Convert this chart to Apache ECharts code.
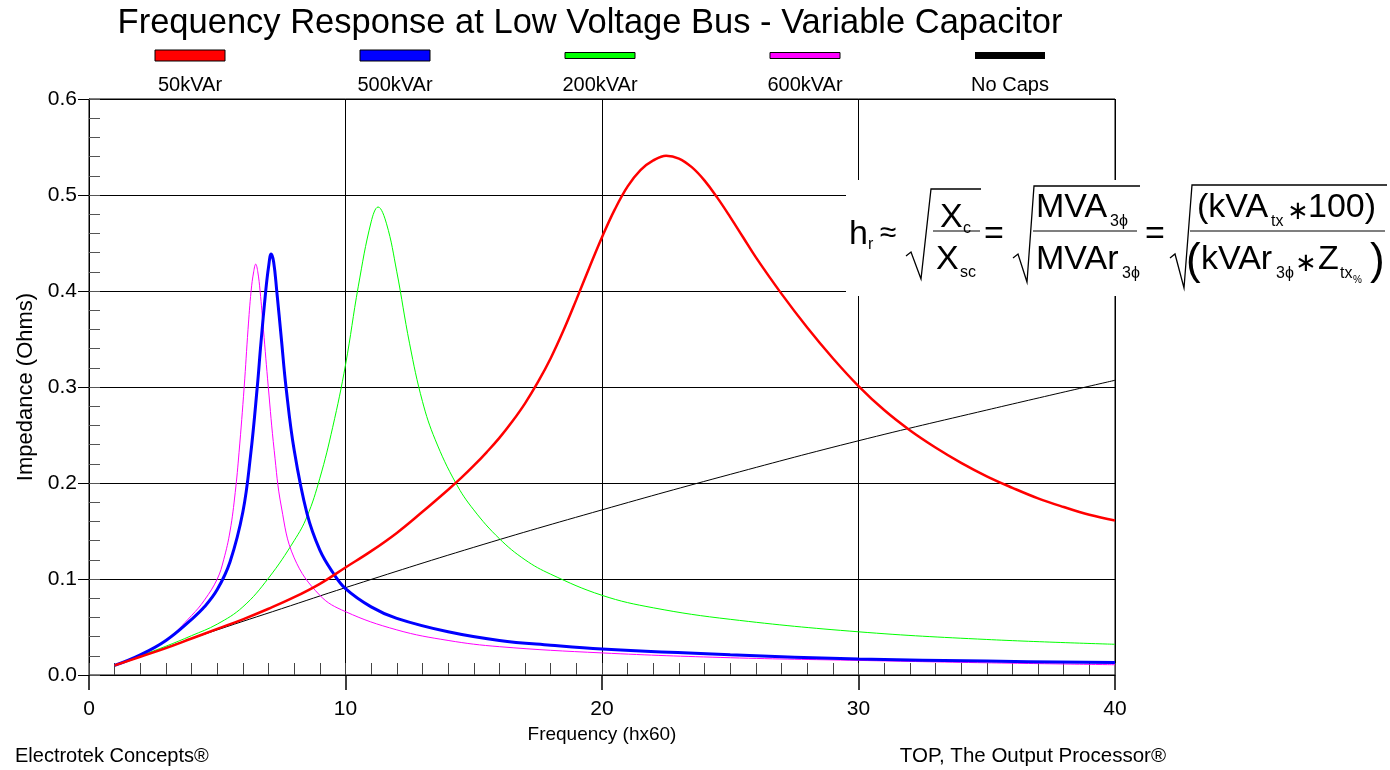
<!DOCTYPE html>
<html>
<head>
<meta charset="utf-8">
<script src="https://cdn.jsdelivr.net/npm/echarts@6.0.0/dist/echarts.min.js"></script>
<style>
html,body{margin:0;padding:0;background:#fff;}
#chart{width:1390px;height:770px;}
</style>
</head>
<body>
<div id="chart"></div>
<script>
// ---------------- DATA ----------------
const titleText = 'Frequency Response at Low Voltage Bus - Variable Capacitor';
const xAxisName = 'Frequency (hx60)';
const yAxisName = 'Impedance (Ohms)';
const seriesNames = ['50kVAr', '500kVAr', '200kVAr', '600kVAr', 'No Caps'];
const seriesColors = ['#ff0000', '#0000ff', '#00ff00', '#ff00ff', '#000000'];

// 50kVAr (red)
const h50 = [1,2,3,4,5,6,7,8,9,10,11,12,13,14,14.5,15,15.5,16,16.5,17,17.5,18,18.5,19,19.5,20,20.5,21,21.5,22,22.5,23,23.5,24,24.5,25,25.5,26,27,28,29,30,31,32,33,34,35,36,37,38,39,40];
const z50 = [0.010,0.019,0.028,0.038,0.048,0.058,0.069,0.081,0.095,0.112,0.129,0.148,0.170,0.193,0.205,0.218,0.232,0.247,0.264,0.283,0.305,0.330,0.359,0.391,0.424,0.456,0.485,0.509,0.526,0.536,0.541,0.538,0.529,0.515,0.497,0.477,0.456,0.435,0.397,0.362,0.330,0.301,0.276,0.255,0.237,0.221,0.207,0.195,0.184,0.175,0.167,0.161];

// 500kVAr (blue)
const h500 = [1,2,3,4,4.5,5,5.5,6,6.3,6.56,6.7,6.89,7.0,7.1,7.2,7.32,7.5,7.68,8,8.5,9,9.5,10,11,12,14,16,18,20,25,30,35,40];
const z500 = [0.010,0.021,0.036,0.058,0.071,0.089,0.118,0.170,0.229,0.300,0.345,0.400,0.425,0.4385,0.430,0.400,0.350,0.300,0.234,0.168,0.130,0.107,0.090,0.071,0.059,0.045,0.036,0.031,0.027,0.021,0.0167,0.0145,0.0129];

// 200kVAr (green)
const h200 = [1,2,3,4,5,6,7,8,8.5,9,9.5,10,10.5,11,11.27,11.6,12,12.5,13,13.5,14.3,15,16,17,18,20,22,25,30,35,40];
const z200 = [0.010,0.020,0.030,0.041,0.053,0.071,0.101,0.140,0.165,0.205,0.258,0.323,0.405,0.472,0.4875,0.470,0.420,0.345,0.285,0.245,0.200,0.172,0.142,0.120,0.105,0.083,0.070,0.058,0.045,0.037,0.032];

// 600kVAr (magenta)
const h600 = [1,2,3,4,4.5,5,5.25,5.5,5.7,5.85,6.05,6.2,6.32,6.42,6.5,6.58,6.67,6.8,6.99,7.22,7.5,8,9,10,12,14,16,20,25,30,35,40];
const z600 = [0.010,0.021,0.036,0.062,0.078,0.100,0.120,0.150,0.190,0.232,0.300,0.360,0.400,0.420,0.428,0.420,0.400,0.360,0.300,0.234,0.175,0.122,0.083,0.066,0.047,0.036,0.0295,0.023,0.018,0.0152,0.0127,0.0107];

// No Caps (black)
const hNo = [1,2.5,5,7.5,10,15,20,25,30,35,40];
const zNo = [0.010,0.024,0.047,0.069,0.091,0.133,0.172,0.209,0.244,0.276,0.307];

const xTicks = [0, 10, 20, 30, 40];
const yTicks = [0.0, 0.1, 0.2, 0.3, 0.4, 0.5, 0.6];
const footerLeft = 'Electrotek Concepts®';
const footerRight = 'TOP, The Output Processor®';

// ---------------- STYLE ----------------
const FONT = '"Liberation Sans", Arial, sans-serif';
const lineWidths = [2.5, 3, 1, 1, 1];
const swatchH = [11, 11, 6, 6, 7];
const seriesZ = [5, 4, 3, 3.5, 2];

function pairs(xs, ys) { return xs.map((x, i) => [x, ys[i]]); }
const seriesData = [pairs(h50, z50), pairs(h500, z500), pairs(h200, z200), pairs(h600, z600), pairs(hNo, zNo)];

// text placed by baseline (canvas "middle" ≈ baseline - 0.31em)
function txt(str, x, baseline, size, align, family) {
  return {
    type: 'text', z: 200, silent: true,
    style: {
      text: str, x: x, y: baseline - 0.31 * size,
      font: size + 'px ' + (family || FONT),
      fill: '#000', textAlign: align || 'left', textVerticalAlign: 'middle'
    }
  };
}
function line(x1, y1, x2, y2, w) {
  return { type: 'line', z: 200, silent: true, shape: { x1, y1, x2, y2 }, style: { stroke: '#000', lineWidth: w || 1.2 } };
}
function poly(points) {
  return { type: 'polyline', z: 200, silent: true, shape: { points }, style: { stroke: '#000', lineWidth: 1.3, fill: null } };
}

const graphics = [];
// title
graphics.push(txt(titleText, 590, 34, 34.5, 'center'));
// legend
seriesNames.forEach((n, i) => {
  const cx = 190 + i * 205;
  const hgt = swatchH[i];
  graphics.push({
    type: 'rect', z: 200, silent: true,
    shape: { x: cx - 35, y: 55.5 - hgt / 2, width: 70, height: hgt },
    style: { fill: seriesColors[i], stroke: '#000', lineWidth: i === 4 ? 0 : 1 }
  });
  graphics.push(txt(n, cx, 92, 20, 'center'));
});
// footers
graphics.push(txt(footerLeft, 15, 763, 20, 'left'));
graphics.push(txt(footerRight, 1166, 763, 20.5, 'right'));

// formula box
graphics.push({ type: 'rect', z: 150, silent: true, shape: { x: 846, y: 180, width: 544, height: 116 }, style: { fill: '#fff' } });
const F = 34, S = 16;
graphics.push(txt('h', 849, 245, F));
graphics.push(txt('r', 868, 250, S));
graphics.push(txt('≈', 888, 243, 30, 'center'));
// sqrt 1
graphics.push(poly([[906, 256], [911, 252], [921, 279], [931, 189], [981, 189]]));
graphics.push(txt('X', 940, 228, F));
graphics.push(txt('c', 963, 234, S));
graphics.push(line(933, 231, 980, 231));
graphics.push(txt('X', 936, 270, F));
graphics.push(txt('sc', 960, 278, S));
graphics.push(txt('=', 994, 245, F, 'center'));
// sqrt 2
graphics.push(poly([[1013, 258], [1018, 254], [1027, 282], [1034, 186], [1140, 186]]));
graphics.push(txt('MVA', 1036, 218, F));
graphics.push(txt('3ϕ', 1110, 227, S));
graphics.push(line(1033, 231, 1137, 231));
graphics.push(txt('MVAr', 1036, 270, F));
graphics.push(txt('3ϕ', 1122, 279, S));
graphics.push(txt('=', 1155, 245, F, 'center'));
// sqrt 3
graphics.push(poly([[1170, 258], [1175, 254], [1184, 288], [1192, 185], [1387, 185]]));
graphics.push(txt('(kVA', 1197, 218, F));
graphics.push(txt('tx', 1271, 227, S));
graphics.push(txt('∗', 1298, 220, 26, 'center', '"DejaVu Sans"'));
graphics.push(txt('100)', 1308, 218, F));
graphics.push(line(1190, 231, 1385, 231));
graphics.push(txt('(', 1186, 275, 44));
graphics.push(txt('kVAr', 1201, 270, F));
graphics.push(txt('3ϕ', 1276, 279, S));
graphics.push(txt('∗', 1306, 272, 26, 'center', '"DejaVu Sans"'));
graphics.push(txt('Z', 1318, 270, F));
graphics.push(txt('tx', 1340, 279, S));
graphics.push(txt('%', 1353, 283, 10));
graphics.push(txt(')', 1370, 275, 44));

const chart = echarts.init(document.getElementById('chart'), null, { renderer: 'canvas' });
const option = {
  animation: false,
  backgroundColor: '#ffffff',
  grid: { left: 89, right: 275, top: 99, bottom: 95, show: true, borderColor: '#000', borderWidth: 1, backgroundColor: 'transparent' },
  xAxis: [
    {
      type: 'value', min: xTicks[0], max: xTicks[xTicks.length - 1], interval: xTicks[1] - xTicks[0], position: 'bottom',
      axisLine: { show: true, onZero: false, lineStyle: { color: '#000', width: 1 } },
      axisTick: { show: true, inside: false, length: 15, lineStyle: { color: '#000', width: 1.5 } },
      axisLabel: { margin: 24, fontSize: 21, color: '#000', fontFamily: FONT },
      splitLine: { show: true, lineStyle: { color: '#000', width: 1 } },
      name: xAxisName, nameLocation: 'middle', nameGap: 47,
      nameTextStyle: { fontSize: 19, color: '#000', fontFamily: FONT }
    },
    {
      type: 'value', min: 0, max: 40, interval: 1, position: 'bottom',
      axisLine: { show: false }, axisLabel: { show: false }, splitLine: { show: false },
      axisTick: { show: true, inside: true, length: 12, lineStyle: { color: '#444', width: 1 } }
    }
  ],
  yAxis: [
    {
      type: 'value', min: yTicks[0], max: yTicks[yTicks.length - 1], interval: 0.1, position: 'left',
      axisLine: { show: true, onZero: false, lineStyle: { color: '#000', width: 1 } },
      axisTick: { show: true, inside: false, length: 11, lineStyle: { color: '#000', width: 1 } },
      axisLabel: { margin: 12, fontSize: 21, color: '#000', fontFamily: FONT, formatter: v => v.toFixed(1) },
      splitLine: { show: true, lineStyle: { color: '#000', width: 1 } },
      name: yAxisName, nameLocation: 'middle', nameGap: 52,
      nameTextStyle: { fontSize: 22, color: '#000', fontFamily: FONT }
    },
    {
      type: 'value', min: 0, max: 0.6, interval: 0.02, position: 'left',
      axisLine: { show: false }, axisLabel: { show: false }, splitLine: { show: false },
      axisTick: { show: true, inside: true, length: 11, lineStyle: { color: '#555', width: 1 } }
    }
  ],
  series: seriesNames.map((n, i) => ({
    name: n, type: 'line', xAxisIndex: 0, yAxisIndex: 0,
    data: seriesData[i], showSymbol: false, smooth: 0.4, z: seriesZ[i],
    lineStyle: { color: seriesColors[i], width: lineWidths[i] },
    itemStyle: { color: seriesColors[i] }
  })),
  graphic: graphics
};
chart.setOption(option);
</script>
</body>
</html>
